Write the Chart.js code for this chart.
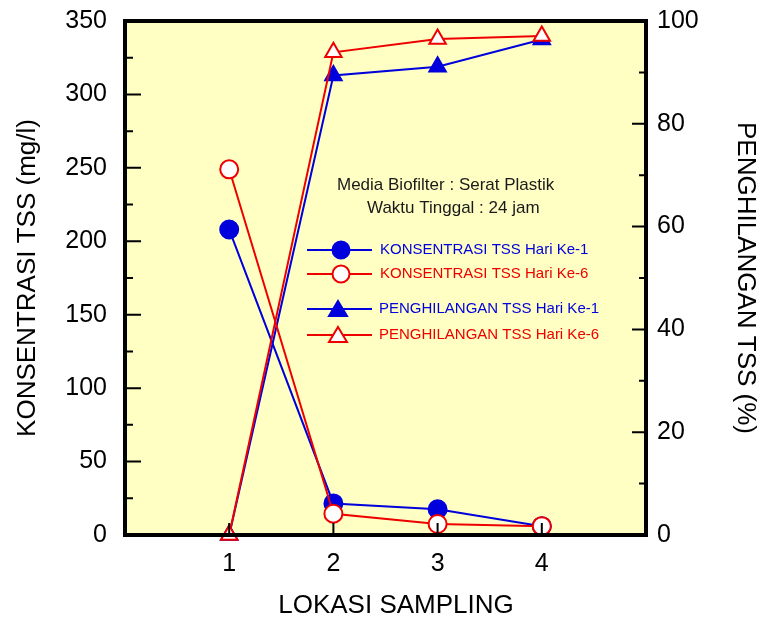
<!DOCTYPE html>
<html>
<head>
<meta charset="utf-8">
<script src="https://cdn.jsdelivr.net/npm/chart.js@4.4.1/dist/chart.umd.min.js"></script>
<style>
  html, body { margin: 0; padding: 0; background: #fff; }
  #wrap { width: 761px; height: 626px; }
</style>
</head>
<body>
<div id="wrap"><canvas id="tss"></canvas></div>
<script>
// lokasi sampling 1..4
var lokasi = [1, 2, 3, 4];
// konsentrasi TSS (mg/l)
var konsentrasiHari1 = [208, 21.5, 17.5, 6];
var konsentrasiHari6 = [249, 14.5, 7.5, 6];
// penghilangan TSS (%)
var penghilanganHari1 = [0, 89.4, 91.1, 96.4];
var penghilanganHari6 = [0, 93.9, 96.5, 97.1];

var konsentrasiTicks = [0, 50, 100, 150, 200, 250, 300, 350];
var penghilanganTicks = [0, 20, 40, 60, 80, 100];

var BIRU = '#0000dd';
var MERAH = '#ee0000';
var FONT = "'Liberation Sans', Arial, sans-serif";

function toXY(ys) {
    return lokasi.map(function (x, i) { return { x: x, y: ys[i] }; });
}

// fixed axis sizes, no extra room for half labels
function fitY(width) {
    return function (s) {
        s.width = width;
        s.paddingTop = 0;
        s.paddingBottom = 0;
    };
}

// plot background, thick frame and inward tick marks
var framePlugin = {
    id: 'frame',
    beforeDatasetsDraw: function (chart) {
        var ctx = chart.ctx, a = chart.chartArea;
        ctx.save();
        ctx.fillStyle = '#ffffc4';
        ctx.fillRect(a.left, a.top, a.right - a.left, a.bottom - a.top);
        ctx.restore();
    },
    afterDatasetsDraw: function (chart) {
        var ctx = chart.ctx, a = chart.chartArea;
        var sx = chart.scales.x, yl = chart.scales.yKons, yr = chart.scales.yPeng;
        ctx.save();
        ctx.strokeStyle = '#000';
        ctx.lineWidth = 2;
        ctx.beginPath();
        // left axis: major every 50, minor every 25
        for (var v = 0; v <= 350; v += 25) {
            var py = yl.getPixelForValue(v);
            var len = v % 50 === 0 ? 16 : 8;
            ctx.moveTo(a.left, py); ctx.lineTo(a.left + len, py);
        }
        // right axis: major every 20, minor every 10
        for (var w = 0; w <= 100; w += 10) {
            var qy = yr.getPixelForValue(w);
            var l2 = w % 20 === 0 ? 14 : 7;
            ctx.moveTo(a.right, qy); ctx.lineTo(a.right - l2, qy);
        }
        lokasi.forEach(function (x) {
            var px = sx.getPixelForValue(x);
            ctx.moveTo(px, a.bottom); ctx.lineTo(px, a.bottom - 12);
        });
        ctx.stroke();
        ctx.lineWidth = 4;
        ctx.strokeRect(a.left, a.top, a.right - a.left, a.bottom - a.top);
        ctx.restore();
    }
};

// x title, note text and legend inside the plot
var legendPlugin = {
    id: 'legendaTss',
    afterDraw: function (chart) {
        var ctx = chart.ctx;
        ctx.save();
        ctx.fillStyle = '#000';
        ctx.font = '26px ' + FONT;
        ctx.textAlign = 'center';
        ctx.textBaseline = 'middle';
        ctx.fillText('LOKASI SAMPLING', 396, 606);

        ctx.fillStyle = '#1a1a1a';
        ctx.font = '17px ' + FONT;
        ctx.textAlign = 'left';
        ctx.fillText('Media Biofilter : Serat Plastik', 337, 185);
        ctx.fillText('Waktu Tinggal : 24 jam', 367, 208);

        var items = [
            { text: 'KONSENTRASI TSS Hari Ke-1', color: BIRU, shape: 'circle', fill: BIRU, y: 250 },
            { text: 'KONSENTRASI TSS Hari Ke-6', color: MERAH, shape: 'circle', fill: '#fff', y: 274 },
            { text: 'PENGHILANGAN TSS Hari Ke-1', color: BIRU, shape: 'triangle', fill: BIRU, y: 309 },
            { text: 'PENGHILANGAN TSS Hari Ke-6', color: MERAH, shape: 'triangle', fill: '#fff', y: 335 }
        ];
        ctx.font = '15px ' + FONT;
        items.forEach(function (it) {
            ctx.strokeStyle = it.color;
            ctx.lineWidth = 2;
            ctx.beginPath();
            ctx.moveTo(307, it.y); ctx.lineTo(372, it.y);
            ctx.stroke();
            ctx.fillStyle = it.fill;
            ctx.beginPath();
            if (it.shape === 'circle') {
                ctx.arc(341, it.y, 8.5, 0, Math.PI * 2);
            } else {
                ctx.moveTo(338, it.y - 8);
                ctx.lineTo(347, it.y + 7);
                ctx.lineTo(329, it.y + 7);
                ctx.closePath();
            }
            ctx.fill();
            ctx.stroke();
            ctx.fillStyle = it.color;
            ctx.fillText(it.text, it.shape === 'circle' ? 380 : 379, it.y);
        });
        ctx.restore();
    }
};

var ctx = document.getElementById('tss');

new Chart(ctx, {
    type: 'line',
    data: {
        datasets: [{
            label: 'PENGHILANGAN TSS Hari Ke-6',
            data: toXY(penghilanganHari6),
            yAxisID: 'yPeng',
            borderColor: MERAH,
            backgroundColor: '#fff',
            pointStyle: 'triangle',
            pointRadius: 9.5,
            order: 0
        }, {
            label: 'KONSENTRASI TSS Hari Ke-6',
            data: toXY(konsentrasiHari6),
            yAxisID: 'yKons',
            borderColor: MERAH,
            backgroundColor: '#fff',
            pointStyle: 'circle',
            pointRadius: 9,
            order: 1
        }, {
            label: 'PENGHILANGAN TSS Hari Ke-1',
            data: toXY(penghilanganHari1),
            yAxisID: 'yPeng',
            borderColor: BIRU,
            backgroundColor: BIRU,
            pointStyle: 'triangle',
            pointRadius: 9.5,
            order: 2
        }, {
            label: 'KONSENTRASI TSS Hari Ke-1',
            data: toXY(konsentrasiHari1),
            yAxisID: 'yKons',
            borderColor: BIRU,
            backgroundColor: BIRU,
            pointStyle: 'circle',
            pointRadius: 9,
            order: 3
        }]
    },
    options: {
        responsive: true,
        maintainAspectRatio: false,
        animation: false,
        layout: { padding: { top: 21, left: 0, right: 0, bottom: 0 } },
        datasets: {
            line: { borderWidth: 2, pointBorderWidth: 2, tension: 0, clip: false, pointHoverRadius: 9 }
        },
        plugins: {
            legend: { display: false },
            tooltip: { enabled: false }
        },
        scales: {
            x: {
                type: 'linear',
                min: 0,
                max: 5,
                afterBuildTicks: function (s) { s.ticks = lokasi.map(function (v) { return { value: v }; }); },
                afterFit: function (s) { s.height = 91; s.paddingLeft = 0; s.paddingRight = 0; },
                grid: { display: false, drawTicks: false },
                border: { display: false },
                ticks: { color: '#000', font: { family: FONT, size: 25 }, padding: 14, maxRotation: 0 },
                title: { display: false }
            },
            yKons: {
                type: 'linear',
                position: 'left',
                min: 0,
                max: 350,
                afterBuildTicks: function (s) { s.ticks = konsentrasiTicks.map(function (v) { return { value: v }; }); },
                afterFit: fitY(125),
                grid: { display: false, drawTicks: false },
                border: { display: false },
                ticks: { color: '#000', font: { family: FONT, size: 25 }, padding: 18 },
                title: { display: true, text: 'KONSENTRASI TSS (mg/l)', color: '#000', font: { family: FONT, size: 26 }, padding: { top: 12, bottom: 0 } }
            },
            yPeng: {
                type: 'linear',
                position: 'right',
                min: 0,
                max: 100,
                afterBuildTicks: function (s) { s.ticks = penghilanganTicks.map(function (v) { return { value: v }; }); },
                afterFit: fitY(115),
                grid: { display: false, drawTicks: false },
                border: { display: false },
                ticks: { color: '#000', font: { family: FONT, size: 25 }, padding: 11 },
                title: { display: true, text: 'PENGHILANGAN TSS (%)', color: '#000', font: { family: FONT, size: 26 }, padding: { top: 0, bottom: 0 } }
            }
        }
    },
    plugins: [framePlugin, legendPlugin]
});
</script>
</body>
</html>
